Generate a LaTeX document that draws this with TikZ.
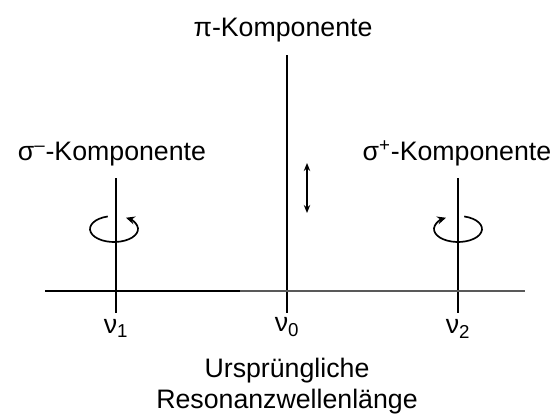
\documentclass[tikz,border=0pt]{standalone}
\usepackage{fontspec}
\setmainfont{Liberation Sans}
\usetikzlibrary{arrows.meta}

\begin{document}
\begin{tikzpicture}[
    x=0.025cm, y=0.025cm,
    lbl/.style={anchor=base, inner sep=0pt, font=\fontsize{19}{22}\selectfont},
    freq/.style={anchor=north, inner sep=0pt, font=\fontsize{19}{22}\selectfont},
    comp/.style={line width=1.1pt},
    axis/.style={line width=2pt},
    spin/.style={line width=1.2pt, -{Stealth[length=2.2mm, width=2mm]}},
    pol/.style={line width=1.1pt, {Stealth[length=2mm, width=1.6mm]}-{Stealth[length=2mm, width=1.6mm]}}
  ]
  \useasboundingbox (0,0) rectangle (560,417);

  % Komponenten
  \node[lbl] (pi) at (283,381) {π-Komponente};
  \node[lbl] (sm) at (112,257) {σ\textsuperscript{–}-Komponente};
  \node[lbl] (sp) at (457,257) {σ\textsuperscript{+}-Komponente};

  \coordinate (t0) at (287,362);
  \coordinate (t1) at (116,239);
  \coordinate (t2) at (458,239);
  \coordinate (b0) at (287,104);
  \coordinate (b1) at (116,104);
  \coordinate (b2) at (458,104);
  \draw[comp] (t0) -- (b0);
  \draw[comp] (t1) -- (b1);
  \draw[comp] (t2) -- (b2);

  % Frequenzachse
  \coordinate (axL) at (45,126);
  \coordinate (axM) at (240,126);
  \coordinate (axR) at (525,126);
  \draw[axis, black] (axL) -- (axM);
  \draw[axis, black!65] (axM) -- (axR);

  % Polarisation
  \coordinate (up) at (307,254);
  \coordinate (dn) at (307,204);
  \draw[pol] (up) -- (dn);
  \coordinate (c1) at (114,188);
  \coordinate (c2) at (458,188);
  \draw[spin] ([shift={(105:24 and 13)}]c1) arc[start angle=105, end angle=420, x radius=24, y radius=13];
  \draw[spin] ([shift={(75:24 and 13)}]c2) arc[start angle=75, end angle=-240, x radius=24, y radius=13];

  % Beschriftung
  \node[freq] (n1) at (116,98) {ν\textsubscript{1}};
  \node[freq] (n0) at (287,100) {ν\textsubscript{0}};
  \node[freq] (n2) at (458,98) {ν\textsubscript{2}};
  \node[lbl] (ur) at (287,40) {Ursprüngliche};
  \node[lbl] (rw) at (287,9) {Resonanzwellenlänge};
\end{tikzpicture}
\end{document}
